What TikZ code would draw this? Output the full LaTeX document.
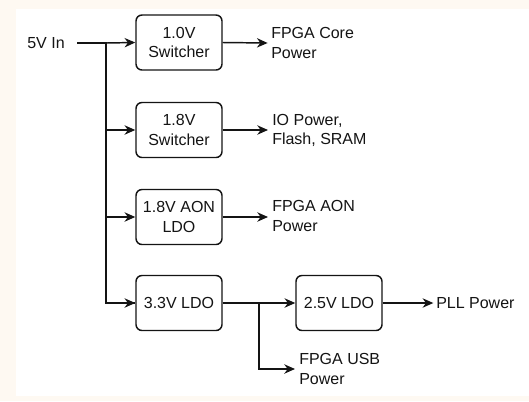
\documentclass[tikz,border=0pt]{standalone}
\usepackage{fontspec}
\setmainfont{Liberation Sans}
\usetikzlibrary{arrows.meta}
\definecolor{cream}{RGB}{254,249,242}
\definecolor{ink}{RGB}{20,20,20}
\begin{document}
\begin{tikzpicture}[x=0.75pt,y=-0.75pt,
  every node/.style={font=\fontsize{12}{14.3}\selectfont, text=ink},
  block/.style={draw=ink, line width=1.1pt, rounded corners=4.5pt, minimum width=64.5pt, minimum height=41.25pt, align=center, inner sep=0pt, fill=white},
  lbl/.style={align=left, anchor=west, inner sep=0pt},
  conn/.style={draw=ink, line width=1.1pt, -{Stealth[length=8pt,width=7pt,inset=2.5pt]}},
  wire/.style={draw=ink, line width=1.1pt}]
\useasboundingbox (0,0) rectangle (529,401);
\fill[cream] (0,0) rectangle (529,401);
\fill[white] (16,9) rectangle (529,396);

\node[inner sep=0pt] (in) at (46,43) {5V In};
\node[block] (b1) at (179,42.5) {1.0V\\Switcher};
\node[block] (b2) at (179,130) {1.8V\\Switcher};
\node[block] (b3) at (179,217) {1.8V AON\\LDO};
\node[block] (b4) at (179,303) {3.3V LDO};
\node[block] (b5) at (339,303) {2.5V LDO};

\node[lbl] (o1) at (271,43) {FPGA Core\\Power};
\node[lbl] (o2) at (272,130) {IO Power,\\Flash, SRAM};
\node[lbl] (o3) at (272,216) {FPGA AON\\Power};
\node[lbl] (o4) at (436,303) {PLL Power};
\node[lbl] (o5) at (299,369) {FPGA USB\\Power};

\coordinate (t0) at (106,43);
\coordinate (ts) at (77,43);
\coordinate (br) at (259,303);

\draw[wire] (ts) -- (t0) |- (b4.west);
\draw[conn] (t0) -- (b1.west);
\draw[conn] (t0 |- b2.west) -- (b2.west);
\draw[conn] (t0 |- b3.west) -- (b3.west);
\draw[conn] (t0 |- b4.west) -- (b4.west);

\draw[conn] (b1.east) -- ([xshift=-2.5]o1.west);
\draw[conn] (b2.east) -- ([xshift=-3]o2.west |- b2.east);
\draw[conn] (b3.east) -- ([xshift=-3]o3.west |- b3.east);
\draw[conn] (b4.east) -- (b5.west);
\draw[conn] (b5.east) -- ([xshift=-2]o4.west);
\draw[conn] (br) |- ([xshift=-3]o5.west);
\end{tikzpicture}
\end{document}
